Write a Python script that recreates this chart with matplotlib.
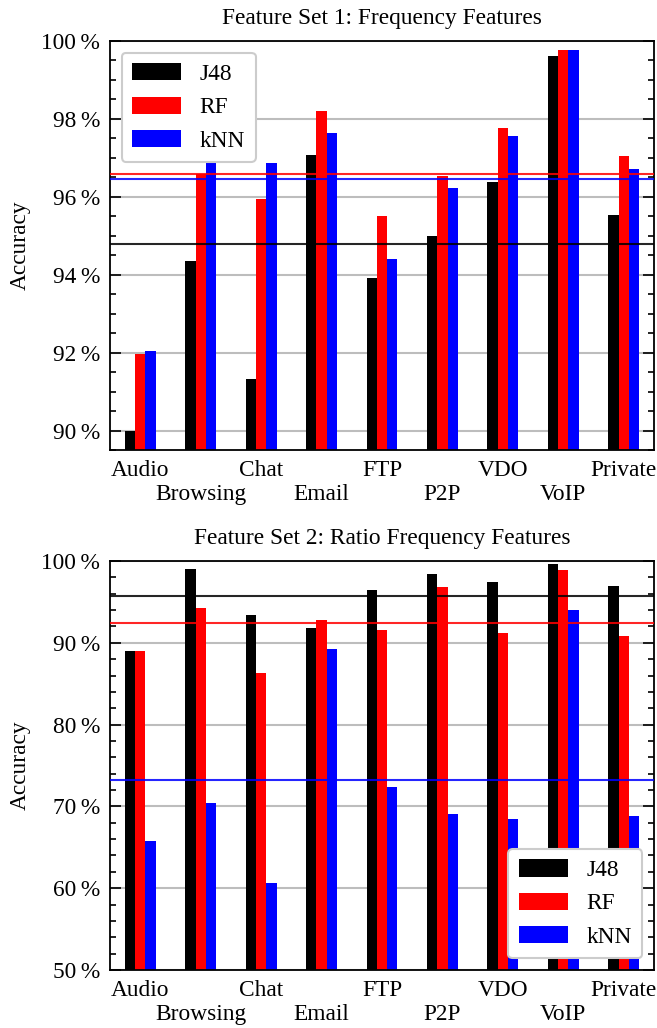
import numpy as np
import matplotlib
matplotlib.use('Agg')
import matplotlib.pyplot as plt
from matplotlib.ticker import MultipleLocator, FuncFormatter, FixedLocator

plt.rcParams['font.family'] = ['Liberation Serif', 'DejaVu Serif']
plt.rcParams['font.size'] = 16.8

categories = ['Audio', 'Browsing', 'Chat', 'Email', 'FTP', 'P2P', 'VDO', 'VoIP', 'Private']
classifiers = ['J48', 'RF', 'kNN']
colors = ['black', 'red', 'blue']

# feature set 1: frequency features (accuracy in %)
fs1_j48 = [90.00, 94.35, 91.33, 97.07, 93.92, 94.99, 96.38, 99.61, 95.53]
fs1_rf = [91.97, 96.58, 95.94, 98.20, 95.50, 96.53, 97.76, 99.76, 97.04]
fs1_knn = [92.04, 96.86, 96.86, 97.63, 94.40, 96.22, 97.56, 99.76, 96.71]

# feature set 2: ratio frequency features (accuracy in %)
fs2_j48 = [88.99, 98.99, 93.38, 91.80, 96.40, 98.35, 97.40, 99.60, 97.00]
fs2_rf = [89.00, 94.23, 86.30, 92.77, 91.55, 96.80, 91.20, 98.87, 90.80]
fs2_knn = [65.80, 70.45, 60.66, 89.23, 72.40, 69.10, 68.50, 93.99, 68.80]

fig = plt.figure(figsize=(6.57, 10.28), dpi=100)
ax1 = fig.add_axes([110/657, 1 - 450/1028, 544/657, 409/1028])
ax2 = fig.add_axes([110/657, 1 - 970/1028, 544/657, 409/1028])

pct = FuncFormatter(lambda v, p: '%d\u2009%%' % round(v))
w = 0.17
x = np.arange(len(categories))


def draw(ax, series, title, ylim, major, minor, legend_loc):
    for k, (vals, name, col) in enumerate(zip(series, classifiers, colors)):
        ax.bar(x + (k - 1) * w, vals, w, color=col, label=name, zorder=2)
    for vals, col in zip(series, colors):
        ax.axhline(np.mean(vals), color=col, lw=1.5, zorder=3, alpha=0.85)
    ax.set_xlim(-0.5, len(categories) - 0.5)
    ax.set_ylim(*ylim)
    ax.yaxis.set_major_locator(MultipleLocator(major))
    ax.yaxis.set_minor_locator(MultipleLocator(minor))
    ax.yaxis.set_major_formatter(pct)
    ax.grid(axis='y', color='#bdbdbd', lw=1.5, zorder=0)
    # even categories on the first row, odd ones one row lower
    ax.xaxis.set_major_locator(FixedLocator(x[0::2]))
    ax.xaxis.set_minor_locator(FixedLocator(x[1::2]))
    ax.set_xticklabels(categories[0::2])
    ax.set_xticklabels(categories[1::2], minor=True)
    ax.tick_params(axis='x', which='major', length=0, pad=7)
    ax.tick_params(axis='x', which='minor', length=0, pad=24.5)
    ax.tick_params(axis='y', which='both', direction='in', left=True, right=True)
    ax.tick_params(axis='y', which='major', length=8, width=1.2, pad=7)
    ax.tick_params(axis='y', which='minor', length=4, width=1.2)
    for s in ax.spines.values():
        s.set_linewidth(1.3)
    ax.set_ylabel('Accuracy', labelpad=8)
    ax.set_title(title, fontsize=16.8, pad=12)
    leg = ax.legend(loc=legend_loc, handlelength=2.1, handleheight=0.75,
                    labelspacing=0.5, borderpad=0.45, handletextpad=0.8,
                    fancybox=True, framealpha=1, borderaxespad=0.5)
    leg.get_frame().set_edgecolor('#cccccc')
    leg.get_frame().set_linewidth(1.5)


draw(ax1, [fs1_j48, fs1_rf, fs1_knn], 'Feature Set 1: Frequency Features',
     (89.5, 100), 2, 0.5, 'upper left')
draw(ax2, [fs2_j48, fs2_rf, fs2_knn], 'Feature Set 2: Ratio Frequency Features',
     (50, 100), 10, 2, 'lower right')

fig.savefig('out.png', dpi=100)
